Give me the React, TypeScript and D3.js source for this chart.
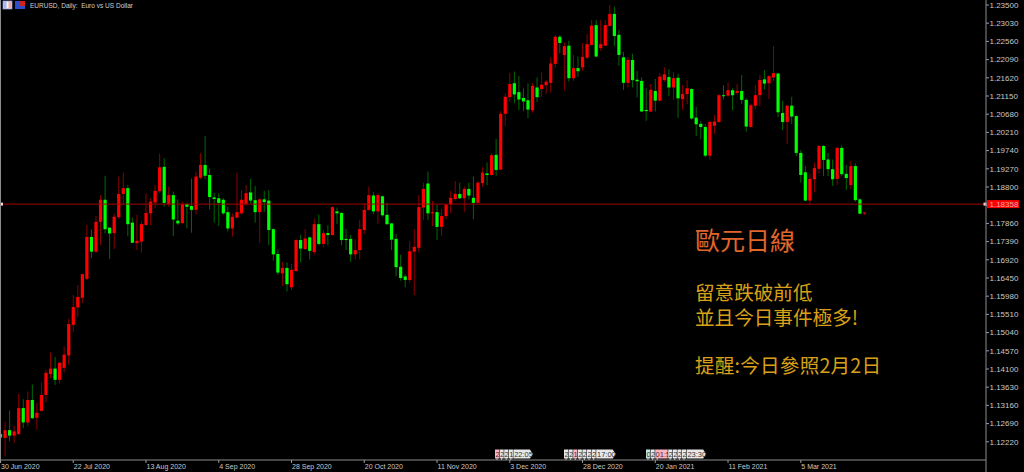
import React from "react";
import * as d3 from "d3";

// Prices in 1/10000 of a dollar, one entry per daily bar.
const highs = [11249,11274,11303,11262,11346,11332,11352,11370,11322,11375,11408,11453,11441,11429,11468,11540,11601,11627,11655,11782,11771,11805,11859,11909,11775,11811,11907,11917,11885,11801,11808,11791,11864,11851,11885,11966,11954,11881,11868,11848,11842,11838,11902,11919,11967,12012,11928,11865,11864,11851,11829,11812,11917,11872,11885,11901,11883,11851,11870,11872,11773,11719,11686,11685,11681,11745,11756,11771,11752,11798,11809,11769,11782,11829,11827,11815,11772,11756,11745,11795,11839,11881,11867,11864,11858,11840,11786,11759,11705,11655,11741,11771,11859,11891,11920,11844,11834,11823,11836,11870,11895,11891,11881,11891,11907,11896,11931,11943,11967,12004,12076,12122,12175,12178,12167,12135,12148,12148,12163,12176,12156,12214,12273,12272,12253,12258,12221,12217,12251,12275,12311,12311,12311,12311,12350,12346,12286,12229,12215,12224,12180,12163,12135,12146,12159,12174,12189,12184,12177,12172,12143,12156,12135,12087,12050,12043,12051,12066,12120,12143,12150,12135,12146,12169,12109,12094,12143,12169,12182,12169,12244,12175,12102,12092,12113,12066,11975,11934,11915,11943,11988,11988,11968,11951,11984,11988,11937,11948,11941,11851,11815];
const lows = [11219,11184,11223,11219,11240,11257,11262,11281,11253,11300,11324,11386,11369,11373,11401,11421,11506,11545,11580,11640,11696,11711,11730,11760,11694,11720,11797,11833,11753,11735,11717,11711,11780,11782,11825,11864,11829,11829,11753,11782,11784,11773,11762,11809,11900,11900,11822,11788,11779,11808,11765,11752,11799,11808,11831,11838,11788,11736,11816,11730,11690,11653,11625,11610,11614,11661,11685,11717,11693,11705,11729,11724,11730,11754,11784,11730,11717,11687,11693,11693,11759,11819,11810,11784,11803,11782,11717,11649,11638,11621,11633,11601,11711,11795,11795,11779,11743,11754,11797,11812,11845,11849,11816,11848,11797,11838,11881,11885,11910,11909,11924,12038,12100,12096,12079,12076,12058,12072,12100,12113,12120,12124,12188,12225,12129,12152,12154,12165,12180,12210,12245,12215,12232,12244,12294,12244,12193,12131,12137,12137,12111,12074,12051,12073,12075,12101,12152,12115,12105,12058,12079,12094,12054,12012,12003,11957,11951,12017,12046,12106,12113,12078,12117,12094,12023,12034,12081,12089,12132,12107,12154,12060,12027,11991,12043,11960,11891,11843,11833,11866,11915,11908,11908,11883,11885,11907,11872,11874,11842,11810,11808];
const opens = [11242,11232,11252,11238,11242,11309,11272,11330,11284,11302,11343,11397,11411,11382,11413,11445,11524,11569,11594,11643,11751,11713,11790,11847,11775,11761,11802,11862,11877,11788,11735,11739,11782,11812,11840,11869,11932,11836,11859,11793,11787,11836,11831,11821,11904,11937,11911,11853,11851,11847,11815,11773,11801,11812,11836,11866,11846,11815,11848,11845,11771,11707,11657,11671,11621,11663,11743,11720,11750,11712,11784,11733,11761,11756,11817,11813,11746,11746,11706,11717,11769,11821,11858,11817,11856,11808,11786,11746,11674,11649,11640,11713,11723,11827,11889,11812,11815,11777,11805,11836,11849,11862,11851,11875,11852,11839,11890,11915,11911,11963,11925,12069,12112,12148,12125,12110,12104,12078,12137,12133,12143,12149,12198,12268,12221,12245,12161,12187,12189,12214,12247,12298,12239,12245,12296,12327,12273,12215,12149,12208,12157,12154,12079,12075,12128,12103,12156,12164,12137,12162,12107,12120,12133,12059,12043,12035,11961,12038,12048,12117,12116,12130,12123,12128,12105,12035,12090,12117,12158,12148,12163,12173,12071,12048,12090,12063,11968,11918,11845,11900,11927,11986,11951,11926,11901,11981,11914,11885,11934,11848,11812];
const closes = [11233,11252,11238,11249,11309,11272,11330,11283,11297,11343,11400,11411,11382,11426,11447,11526,11570,11596,11655,11751,11713,11790,11847,11771,11760,11803,11862,11877,11784,11736,11741,11784,11813,11842,11870,11931,11839,11859,11796,11786,11836,11829,11821,11907,11937,11909,11854,11849,11839,11812,11773,11803,11815,11847,11864,11845,11815,11848,11841,11769,11706,11659,11671,11629,11666,11743,11721,11747,11715,11784,11733,11761,11756,11828,11812,11743,11743,11706,11717,11771,11821,11859,11817,11859,11807,11784,11744,11673,11645,11640,11714,11725,11828,11875,11812,11815,11777,11805,11834,11852,11862,11851,11875,11858,11839,11891,11917,11911,11962,11924,12069,12113,12146,12119,12106,12101,12080,12141,12112,12144,12152,12199,12268,12252,12244,12161,12187,12179,12216,12249,12297,12217,12249,12298,12327,12270,12221,12149,12208,12156,12153,12075,12076,12131,12103,12165,12171,12137,12161,12109,12120,12135,12057,12042,12035,11961,12048,12049,12117,12116,12130,12117,12128,12105,12036,12091,12117,12156,12147,12166,12174,12073,12048,12090,12062,11968,11911,11845,11901,11929,11986,11950,11926,11900,11981,11913,11903,11934,11846,11811,11814];

const tickPrices = [1.235,1.2303,1.2256,1.2209,1.2162,1.2115,1.2068,1.2021,1.1974,1.1927,1.188,1.1833,1.1786,1.1739,1.1692,1.1645,1.1598,1.1551,1.1504,1.1457,1.141,1.1363,1.1316,1.1269,1.1222];
const timeLabels = ["30 Jun 2020","22 Jul 2020","13 Aug 2020","4 Sep 2020","28 Sep 2020","20 Oct 2020","11 Nov 2020","3 Dec 2020","28 Dec 2020","20 Jan 2021","11 Feb 2021","5 Mar 2021"];
const timeLabelIndex = [0,16,32,48,64,80,96,112,128,144,160,176];
const lastPrice = 1.18358;
const eventGroupStarts = [495, 564, 646];
const eventGroupCells = [["2","2","2","1"],["2","2","1","2","2","2","2"],["0","2","01:5","2","2","2","2"]];
const eventGroupEnds = ["22:05","17:00","23:30"];
const title = "歐元日線";
const noteLines = ["留意跌破前低","並且今日事件極多!"];
const reminder = "提醒:今日參照2月2日";

const W = 1024, H = 472;
const axisX = 986, axisY = 460;
const cjk = '"Noto Sans CJK TC", sans-serif';
const ui = '"Liberation Sans", Arial, sans-serif';

function EventGroup({ start, cells, end }: { start: number; cells: string[]; end: string }) {
  let cursor = start;
  const boxes = cells.map((c, k) => {
    const wide = c.length > 1;
    const w = wide ? 13 : 4.6;
    const cellX = cursor;
    cursor += w;
    const pink = wide || (c === "1" && k === (start === 564 ? 2 : 0)) || (start === 495 && k === 0);
    const fill = pink ? "#ffb4c4" : c === "0" ? "#bfe6e6" : "#e8e8e8";
    return (
      <g key={k}>
        <rect x={cellX} y={449.5} width={w - 0.5} height={9} fill={fill} />
        <text x={cellX + 0.4} y={457} fontFamily={ui} fontSize={7.5} fill="#333">{c}</text>
        <line x1={cellX + 2} x2={cellX + 2} y1={458} y2={axisY} stroke="#bbb" />
      </g>
    );
  });
  const e = cursor;
  const endW = 19.5;
  const path = d3.path();
  path.moveTo(e, 449.5);
  path.lineTo(e + endW - 3, 449.5);
  path.lineTo(e + endW, 454);
  path.lineTo(e + endW - 3, 458.5);
  path.lineTo(e, 458.5);
  path.closePath();
  return (
    <g>
      {boxes}
      <path d={path.toString()} fill="#e8e8e8" />
      <text x={e + 0.8} y={457} fontFamily={ui} fontSize={7.5} fill="#333">{end}</text>
    </g>
  );
}

export default function App() {
  const y = d3.scaleLinear().domain([1.235, 1.1222]).range([5, 441.8]);
  const x = d3.scaleLinear().domain([0, 176]).range([0.5, 800.8]);
  const p = (v: number) => y(v / 10000);
  return (
    <svg width={W} height={H} style={{ position: "fixed", left: 0, top: 0, background: "#000", display: "block" }}>
      <rect width={W} height={H} fill="#000" />
      {highs.map((h, i) => {
        const up = closes[i] >= opens[i];
        const cx = x(i);
        const top = Math.min(p(opens[i]), p(closes[i]));
        const bot = Math.max(p(opens[i]), p(closes[i]));
        return (
          <g key={i}>
            <line x1={cx} x2={cx} y1={p(h)} y2={p(lows[i])} stroke={up ? "#8a0000" : "#006a00"} strokeWidth={1} />
            <rect x={cx - 1.6} width={3.2} y={top} height={Math.max(bot - top, 1)} fill={up ? "#ff0000" : "#00ff00"} />
          </g>
        );
      })}
      <line x1={0} x2={axisX} y1={y(lastPrice)} y2={y(lastPrice)} stroke="#a00000" strokeWidth={1} />
      <rect x={0} y={y(lastPrice) - 1.5} width={3} height={3} fill="#ffd0d0" />
      <rect x={983.5} y={y(lastPrice) - 1.5} width={3} height={3} fill="#ffd0d0" />
      <line x1={0.5} x2={0.5} y1={0} y2={axisY} stroke="#8c8c8c" />
      <line x1={axisX} x2={axisX} y1={0} y2={H} stroke="#8c8c8c" />
      <line x1={0} x2={axisX} y1={axisY} y2={axisY} stroke="#8c8c8c" />
      {tickPrices.map((t) => (
        <g key={t}>
          <line x1={axisX} x2={axisX + 3} y1={y(t)} y2={y(t)} stroke="#9a9a9a" />
          {t !== 1.1833 && (
            <text x={989.5} y={y(t) + 2.8} fontFamily={ui} fontSize={8} fill="#c8c8c8">{t.toFixed(5)}</text>
          )}
        </g>
      ))}
      <rect x={987} y={y(lastPrice) - 4} width={32} height={8} fill="#ff0000" />
      <text x={989.5} y={y(lastPrice) + 2.8} fontFamily={ui} fontSize={8} fill="#e8a8a8">{lastPrice.toFixed(5)}</text>
      {timeLabels.map((t, k) => {
        const tx = x(timeLabelIndex[k]);
        return (
          <g key={t}>
            <line x1={tx} x2={tx} y1={axisY} y2={axisY + 3} stroke="#9a9a9a" />
            <text x={tx + 0.5} y={469} fontFamily={ui} fontSize={7} fill="#c8c8c8">{t}</text>
          </g>
        );
      })}
      {eventGroupStarts.map((s, k) => (
        <EventGroup key={s} start={s} cells={eventGroupCells[k]} end={eventGroupEnds[k]} />
      ))}
      <text x={30} y={7.5} fontFamily={ui} fontSize={7} fill="#d0d0d0" textLength={103} lengthAdjust="spacingAndGlyphs" xmlSpace="preserve">EURUSD, Daily:  Euro vs US Dollar</text>
      <rect x={3} y={1} width={9} height={8} fill="#f4f4f4" stroke="#6f86d0" strokeWidth={0.8} />
      <rect x={3.5} y={1.5} width={3} height={7} fill="#a8b8e8" />
      <rect x={8.5} y={1.5} width={3} height={7} fill="#f0a8b0" />
      <rect x={15} y={1} width={10} height={8} fill="#2a4fc8" />
      <rect x={19.5} y={1} width={5.5} height={5} fill="#d02020" />
      <text x={695} y={250} fontFamily={cjk} fontSize={25} fill="#e0662a">{title}</text>
      <text fontFamily={cjk} fontSize={19.6} fill="#d8a018">
        {noteLines.map((l, k) => (
          <tspan key={k} x={695} y={300 + k * 25}>{l}</tspan>
        ))}
      </text>
      <text x={695} y={373} fontFamily={cjk} fontSize={19.6} fill="#d8a018" textLength={186}>{reminder}</text>
    </svg>
  );
}
